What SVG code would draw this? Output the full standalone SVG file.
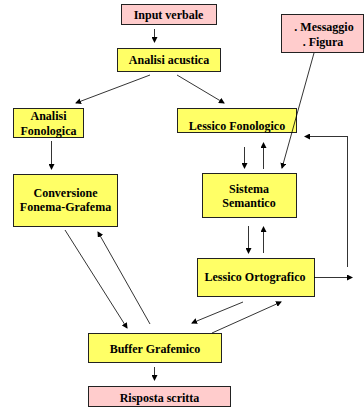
<svg xmlns="http://www.w3.org/2000/svg" width="364" height="409" viewBox="0 0 364 409">
<defs>
<marker id="ah" markerWidth="6" markerHeight="6" refX="5" refY="3" orient="auto" markerUnits="userSpaceOnUse">
<path d="M0,0 L6,3 L0,6 Z" fill="#000"/>
</marker>
<style>
.y{fill:#FFFF66;stroke:#222;stroke-width:1}
.p{fill:#FFCCCC;stroke:#222;stroke-width:1}
text{font-family:"Liberation Serif","Times New Roman",serif;font-weight:bold;font-size:12px;fill:#000;text-anchor:middle}
.c line,.c path{stroke:#000;stroke-width:0.8;fill:none}
.a{marker-end:url(#ah)}
</style>
</defs>
<rect width="364" height="409" fill="#fff"/>
<g id="input"><rect class="p" x="121.5" y="4.5" width="95" height="20"/><text x="168.5" y="18.5">Input verbale</text></g>
<g id="acustica"><rect class="y" x="117.5" y="48.5" width="103" height="23"/><text x="169" y="64">Analisi  acustica</text></g>
<g id="fonologica"><rect class="y" x="13.5" y="108.5" width="70" height="29"/><text x="48.5" y="120">Analisi</text><text x="48.5" y="135">Fonologica</text></g>
<g id="conversione"><rect class="y" x="13.5" y="174.5" width="104" height="52"/><text x="65.5" y="197">Conversione</text><text x="65.5" y="211">Fonema-Grafema</text></g>
<g id="lessfon"><rect class="y" x="177.5" y="108.5" width="119" height="24"/><text x="237" y="130">Lessico Fonologico</text></g>
<g id="messaggio"><rect class="p" x="281.5" y="14.5" width="82" height="38"/><text x="324" y="31">. Messaggio</text><text x="323" y="46">. Figura</text></g>
<g id="semantico"><rect class="y" x="202.5" y="173.5" width="94" height="44"/><text x="249" y="193">Sistema</text><text x="249" y="207">Semantico</text></g>
<g id="lessort"><rect class="y" x="197.5" y="258.5" width="117" height="38"/><text x="255" y="281">Lessico Ortografico</text></g>
<g id="buffer"><rect class="y" x="88.5" y="333.5" width="133" height="29"/><text x="155" y="353">Buffer Grafemico</text></g>
<g id="risposta"><rect class="p" x="88.5" y="386.5" width="142" height="20"/><text x="159.5" y="402">Risposta scritta</text></g>
<g id="connectors" class="c">
<line class="a" x1="154.5" y1="29" x2="154.5" y2="42"/>
<line class="a" x1="150" y1="75" x2="76" y2="103"/>
<line class="a" x1="177" y1="75" x2="224" y2="103"/>
<line class="a" x1="51.5" y1="141" x2="51.5" y2="169"/>
<line class="a" x1="314" y1="53" x2="282" y2="168"/>
<line class="a" x1="347" y1="136.5" x2="305" y2="136.5"/>
<line x1="347.5" y1="136" x2="347.5" y2="267"/>
<line class="a" x1="244.5" y1="147" x2="244.5" y2="168"/>
<line class="a" x1="263.5" y1="169" x2="263.5" y2="143"/>
<line class="a" x1="248.5" y1="226" x2="248.5" y2="253"/>
<line class="a" x1="263.5" y1="253" x2="263.5" y2="227"/>
<line class="a" x1="314" y1="277.5" x2="352" y2="277.5"/>
<line class="a" x1="65" y1="230" x2="127" y2="328"/>
<line class="a" x1="150" y1="324" x2="98" y2="232"/>
<line class="a" x1="243" y1="302" x2="192" y2="323"/>
<line class="a" x1="212" y1="333" x2="281" y2="302"/>
<line class="a" x1="154.5" y1="367" x2="154.5" y2="380"/>
</g>
</svg>
